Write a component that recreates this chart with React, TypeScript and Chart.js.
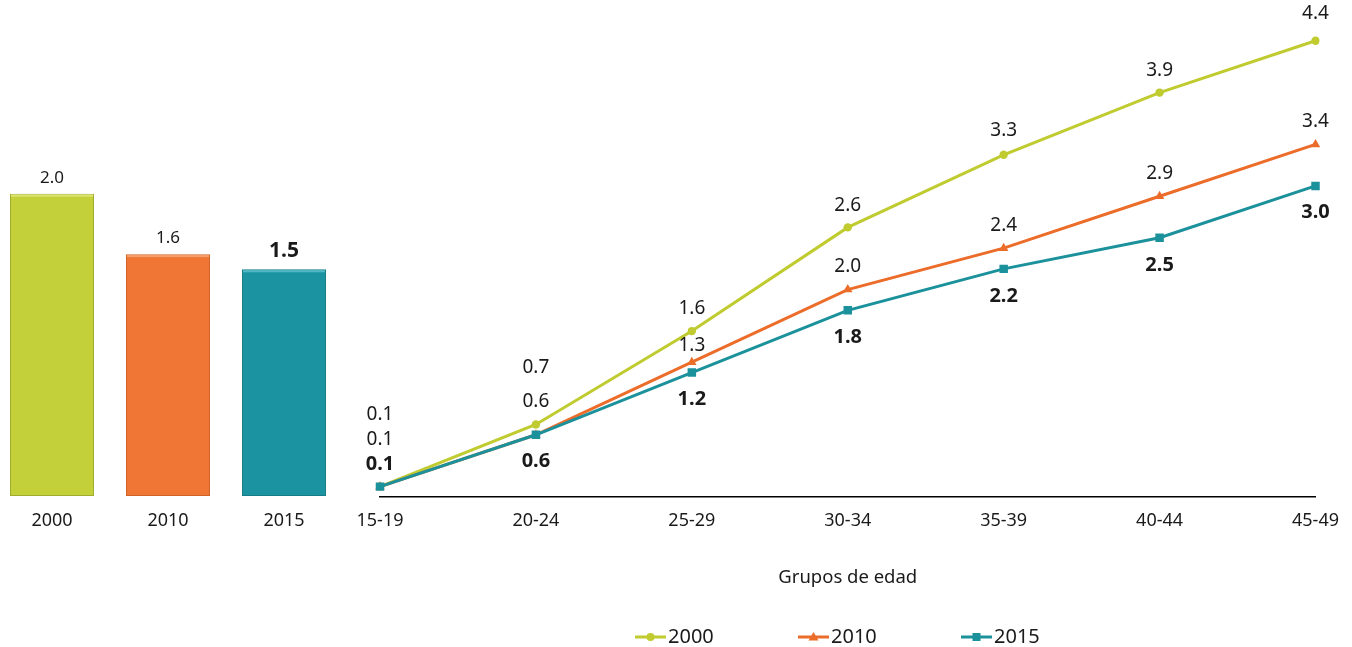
import React, { useEffect, useRef } from "react";
import { Chart, registerables } from "chart.js";

Chart.register(...registerables);

// ---------- data ----------
const barYears = ["2000", "2010", "2015"];
const barValues = [2.0, 1.6, 1.5];

const ageGroups = ["15-19", "20-24", "25-29", "30-34", "35-39", "40-44", "45-49"];
const series2000 = [0.1, 0.7, 1.6, 2.6, 3.3, 3.9, 4.4];
const series2010 = [0.1, 0.6, 1.3, 2.0, 2.4, 2.9, 3.4];
const series2015 = [0.1, 0.6, 1.2, 1.8, 2.2, 2.5, 3.0];
const seriesNames = ["2000", "2010", "2015"];
const xAxisTitle = "Grupos de edad";

// ---------- styles ----------
const FONT = "'Noto Sans', 'Open Sans', sans-serif";
const NARROW = "'Liberation Sans Narrow', 'Noto Sans', sans-serif";
const TEXT = "#1a1a1a";
const barFill = ["#C3D03A", "#EF7634", "#1C93A0"];
const barBorder = ["#9FAD2C", "#CF6229", "#167C87"];
const barHighlight = ["#DCE573", "#F59E6A", "#4FB8C3"];
const lineColors = ["#BFCB2F", "#EC6C2A", "#1B919C"];
const pointStyles = ["circle", "triangle", "rect"];
const pointRadii = [4.2, 5.5, 6];
// label vertical offsets (px) relative to each point, per series
const labelDy = [
  [-72, -57, -22, -22, -24, -22, -27],
  [-47, -33, -17, -23, -23, -23, -23],
  [-22, 27, 27, 27, 27, 28, 26],
];
const labelBold = [false, false, true];

const barLabelPlugin = {
  id: "barLabels",
  afterDatasetsDraw(chart: any) {
    const ctx = chart.ctx;
    const meta = chart.getDatasetMeta(0);
    ctx.save();
    meta.data.forEach((el: any, i: number) => {
      const { x, y, width } = el.getProps(["x", "y", "width"], true);
      // top highlight
      ctx.fillStyle = barHighlight[i];
      ctx.fillRect(x - width / 2 + 1, y + 1, width - 2, 2);
      const v = chart.data.datasets[0].data[i] as number;
      const bold = i === 2;
      ctx.font = bold ? `bold 21px ${FONT}` : `17px ${NARROW}`;
      ctx.fillStyle = TEXT;
      ctx.textAlign = "center";
      ctx.textBaseline = "middle";
      ctx.fillText(v.toFixed(1), x, y - (bold ? 18 : 16));
    });
    ctx.restore();
  },
};

const lineLabelPlugin = {
  id: "lineLabels",
  afterDatasetsDraw(chart: any) {
    const ctx = chart.ctx;
    ctx.save();
    ctx.textAlign = "center";
    ctx.textBaseline = "middle";
    ctx.fillStyle = TEXT;
    chart.data.datasets.forEach((ds: any, di: number) => {
      const meta = chart.getDatasetMeta(di);
      ctx.font = labelBold[di] ? `bold 20px ${FONT}` : `19px ${FONT}`;
      meta.data.forEach((el: any, i: number) => {
        const v = ds.data[i] as number;
        ctx.fillText(v.toFixed(1), el.x, el.y + labelDy[di][i]);
      });
    });
    ctx.restore();
  },
  afterDraw(chart: any) {
    // legend
    const ctx = chart.ctx;
    ctx.save();
    const cy = 637;
    const startX = 295;
    const stride = 163;
    chart.data.datasets.forEach((ds: any, di: number) => {
      const x0 = startX + di * stride;
      ctx.strokeStyle = lineColors[di];
      ctx.lineWidth = 3;
      ctx.beginPath();
      ctx.moveTo(x0, cy);
      ctx.lineTo(x0 + 31, cy);
      ctx.stroke();
      ctx.fillStyle = lineColors[di];
      const mx = x0 + 15.5;
      ctx.beginPath();
      if (di === 0) {
        ctx.arc(mx, cy, 4, 0, Math.PI * 2);
      } else if (di === 1) {
        ctx.moveTo(mx, cy - 5);
        ctx.lineTo(mx + 5, cy + 3.5);
        ctx.lineTo(mx - 5, cy + 3.5);
        ctx.closePath();
      } else {
        ctx.rect(mx - 4, cy - 4, 8, 8);
      }
      ctx.fill();
      ctx.fillStyle = TEXT;
      ctx.font = `20px ${FONT}`;
      ctx.textAlign = "left";
      ctx.textBaseline = "middle";
      ctx.fillText(ds.label, x0 + 33, cy);
    });
    ctx.restore();
  },
};

export default function App() {
  const barRef = useRef<HTMLCanvasElement>(null);
  const lineRef = useRef<HTMLCanvasElement>(null);

  useEffect(() => {
    const barChart = new Chart(barRef.current!, {
      type: "bar",
      data: {
        labels: barYears,
        datasets: [
          {
            data: barValues,
            backgroundColor: barFill,
            borderColor: barBorder,
            borderWidth: 1,
            borderSkipped: false,
            barPercentage: 0.724,
            categoryPercentage: 1,
          },
        ],
      },
      options: {
        responsive: false,
        animation: false,
        layout: { padding: { top: 103, left: 0, right: 0, bottom: 0 } },
        plugins: { legend: { display: false }, tooltip: { enabled: false } },
        scales: {
          x: {
            grid: { display: false, drawTicks: false },
            border: { display: false },
            ticks: { color: TEXT, font: { family: FONT, size: 18 }, padding: 14 },
            afterFit: (s: any) => {
              s.height = 151;
            },
          },
          y: { display: false, min: 0, max: 2.6 },
        },
      },
      plugins: [barLabelPlugin],
    });

    const lineChart = new Chart(lineRef.current!, {
      type: "line",
      data: {
        labels: ageGroups,
        datasets: [series2000, series2010, series2015].map((d, i) => ({
          label: seriesNames[i],
          data: d,
          borderColor: lineColors[i],
          backgroundColor: lineColors[i],
          borderWidth: 3,
          pointStyle: pointStyles[i] as any,
          pointRadius: pointRadii[i],
          pointBorderWidth: 0,
          tension: 0,
          order: 2 - i,
        })),
      },
      options: {
        responsive: false,
        animation: false,
        layout: { padding: { top: 20, left: 40, right: 36, bottom: 0 } },
        plugins: { legend: { display: false }, tooltip: { enabled: false } },
        scales: {
          x: {
            offset: false,
            grid: { display: false, drawTicks: false },
            border: { display: true, color: "#000", width: 1.5 },
            ticks: { color: TEXT, font: { family: FONT, size: 18 }, padding: 13 },
            title: {
              display: true,
              text: xAxisTitle,
              color: TEXT,
              font: { family: FONT, size: 18.5 },
              padding: { top: 0, bottom: 58 },
            },
            afterFit: (s: any) => {
              s.height = 150;
            },
          },
          y: { display: false, min: 0, max: 4.6 },
        },
      },
      plugins: [lineLabelPlugin],
    });

    return () => {
      barChart.destroy();
      lineChart.destroy();
    };
  }, []);

  return (
    <div
      style={{
        position: "fixed",
        left: 0,
        top: 0,
        width: 1352,
        height: 647,
        overflow: "hidden",
        background: "#fff",
      }}
    >
      <div style={{ position: "absolute", left: -6, top: 0, width: 348, height: 647 }}>
        <canvas ref={barRef} width={348} height={647} style={{ width: 348, height: 647 }} />
      </div>
      <div style={{ position: "absolute", left: 340, top: 0, width: 1012, height: 647 }}>
        <canvas ref={lineRef} width={1012} height={647} style={{ width: 1012, height: 647 }} />
      </div>
    </div>
  );
}
